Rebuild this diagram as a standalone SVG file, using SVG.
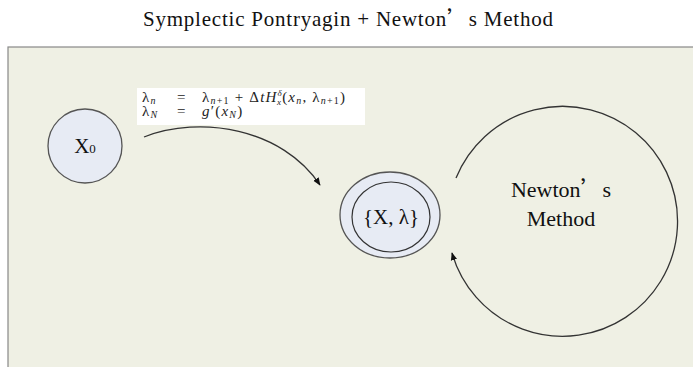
<svg xmlns="http://www.w3.org/2000/svg" width="693" height="367" viewBox="0 0 693 367">
<style>
.t{font-family:"Liberation Serif","Times New Roman",serif;fill:#111}
.m{font-family:"Liberation Serif","Times New Roman",serif;fill:#222;font-size:15px;letter-spacing:1.2px}
.i{font-style:italic}
.node{fill:#e7ebf4;stroke:#555;stroke-width:1.3}
.edge{fill:none;stroke:#333;stroke-width:1.3}
.cjk{font-family:"Noto Sans CJK SC",sans-serif}
</style>
<defs>
<marker id="ah" viewBox="0 0 10 10" refX="9" refY="5" markerWidth="8" markerHeight="8" markerUnits="userSpaceOnUse" orient="auto">
<path d="M0,1 L10,5 L0,9 z" fill="#111"/>
</marker>
</defs>
<rect width="693" height="367" fill="#ffffff"/>
<text class="t" x="143" y="26" font-size="21" textLength="410" lengthAdjust="spacing">Symplectic Pontryagin + Newton<tspan class="cjk">’</tspan>s Method</text>
<rect x="8" y="47" width="700" height="340" fill="#eff0e4" stroke="#888" stroke-width="1.2"/>
<g id="equations">
<rect x="137" y="88" width="228" height="37" fill="#ffffff"/>
<text class="m" y="102"><tspan x="142">λ<tspan class="i" font-size="10" dy="2">n</tspan></tspan><tspan x="177" dy="-2">=</tspan><tspan x="202">λ<tspan font-size="10" dy="2"><tspan class="i">n</tspan>+1</tspan><tspan dy="-2"> + Δ</tspan><tspan class="i">tH</tspan><tspan class="i" font-size="9" dy="-6">δ</tspan><tspan class="i" font-size="9" dx="-6" dy="9">x</tspan><tspan dy="-3">(</tspan><tspan class="i">x</tspan><tspan class="i" font-size="10" dy="2">n</tspan><tspan dy="-2">, λ</tspan><tspan font-size="10" dy="2"><tspan class="i">n</tspan>+1</tspan><tspan dy="-2">)</tspan></tspan></text>
<text class="m" y="116"><tspan x="142">λ<tspan class="i" font-size="10" dy="2">N</tspan></tspan><tspan x="177" dy="-2">=</tspan><tspan x="202"><tspan class="i">g</tspan>′(<tspan class="i">x</tspan><tspan class="i" font-size="10" dy="2">N</tspan><tspan dy="-2">)</tspan></tspan></text>
</g>
<g id="connectors">
<path class="edge" d="M144,137 C200,115 282,128 320,185" marker-end="url(#ah)"/>
<path class="edge" d="M456,178 A115,115 0 1 1 452,253" marker-end="url(#ah)"/>
</g>
<g id="x0">
<circle class="node" cx="85" cy="146" r="37"/>
<text class="t" x="85" y="153" font-size="21" text-anchor="middle">X<tspan font-size="13">0</tspan></text>
</g>
<g id="xlambda">
<ellipse class="node" cx="390" cy="215" rx="50" ry="43"/>
<ellipse cx="391" cy="217" rx="39" ry="35" fill="none" stroke="#333" stroke-width="1.2"/>
<text class="t" x="391" y="224" font-size="21" text-anchor="middle">{X, λ}</text>
</g>
<g id="newton">
<text class="t" x="561" y="197" font-size="22" text-anchor="middle">Newton<tspan class="cjk">’</tspan>s</text>
<text class="t" x="561" y="226" font-size="22" text-anchor="middle">Method</text>
</g>
</svg>
